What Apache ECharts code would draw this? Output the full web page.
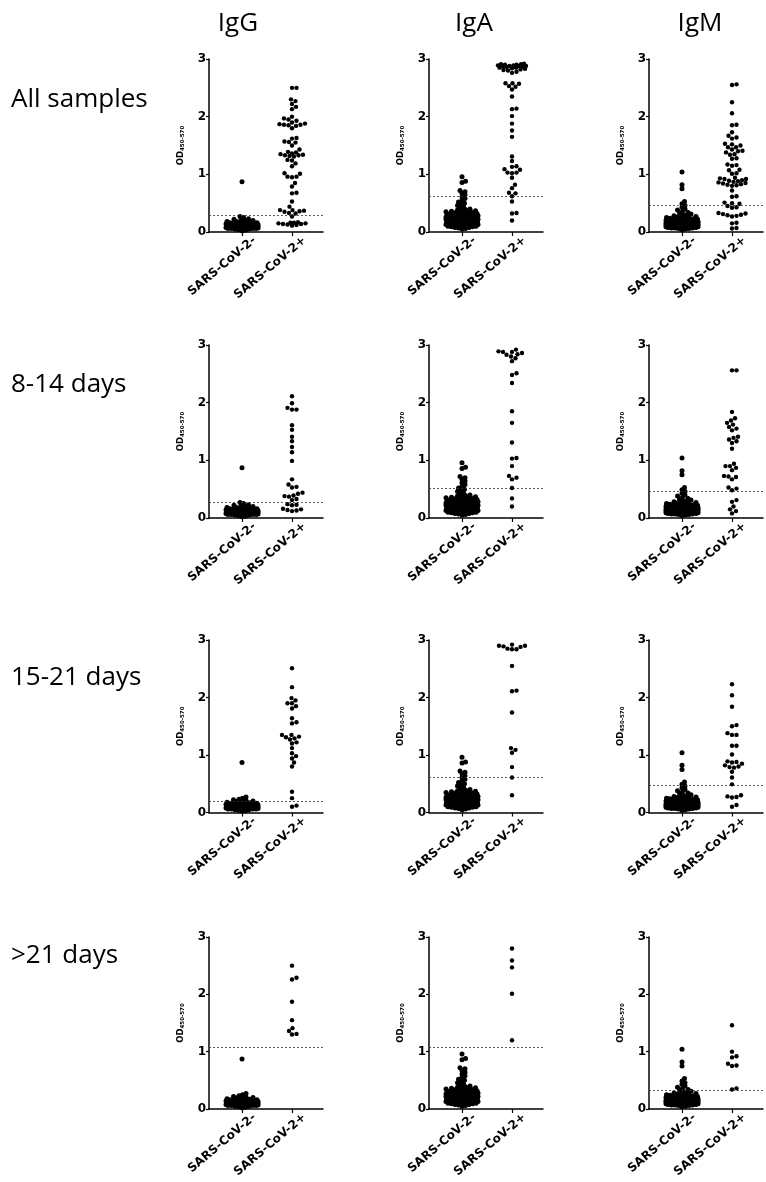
<!DOCTYPE html>
<html>
<head>
<meta charset="utf-8">
<script src="https://cdn.jsdelivr.net/npm/echarts@6/dist/echarts.min.js"></script>
<style>
html,body{margin:0;padding:0;background:#fff;}
#main{width:766px;height:1182px;}
</style>
</head>
<body>
<div id="main"></div>
<script>
// ---------- DATA ----------
const columnLabels = ['IgG', 'IgA', 'IgM'];
const rowLabels = ['All samples', '8-14 days', '15-21 days', '>21 days'];
const categories = ['SARS-CoV-2-', 'SARS-CoV-2+'];
const yTicks = [0, 1, 2, 3];

// Negative controls (same cohort in every row)
const negIgG = [0.87, 0.27, 0.25, 0.23, 0.22, 0.21, 0.20, 0.19, 0.18, 0.18, 0.17, 0.17, 0.16, 0.16, 0.16,
  0.15, 0.15, 0.15, 0.15, 0.14, 0.14, 0.14, 0.14, 0.14, 0.13, 0.13, 0.13, 0.13, 0.13, 0.13, 0.12, 0.12, 0.12, 0.12, 0.12, 0.12, 0.12,
  0.11, 0.11, 0.11, 0.11, 0.11, 0.11, 0.11, 0.11, 0.10, 0.10, 0.10, 0.10, 0.10, 0.10, 0.10, 0.10, 0.10, 0.09, 0.09, 0.09, 0.09, 0.09, 0.09, 0.09, 0.09,
  0.08, 0.08, 0.08, 0.08, 0.08, 0.08, 0.08, 0.07, 0.07, 0.07, 0.07, 0.07, 0.06, 0.06, 0.06, 0.06, 0.05, 0.05, 0.04, 0.03, 0.02];
const negIgA = [0.96, 0.88, 0.86, 0.72, 0.70, 0.67, 0.64, 0.61, 0.58, 0.55, 0.52, 0.50, 0.48, 0.46, 0.44, 0.42, 0.40,
  0.39, 0.38, 0.37, 0.37, 0.36, 0.35, 0.35, 0.34, 0.34, 0.33, 0.33,
  0.32, 0.32, 0.31, 0.31, 0.31, 0.30, 0.30, 0.30, 0.29, 0.29, 0.29, 0.29, 0.28, 0.28, 0.28, 0.28, 0.27, 0.27, 0.27, 0.27,
  0.26, 0.26, 0.26, 0.26, 0.26, 0.26, 0.25, 0.25, 0.25, 0.25, 0.25, 0.25, 0.24, 0.24, 0.24, 0.24, 0.24, 0.24,
  0.23, 0.23, 0.23, 0.23, 0.23, 0.23, 0.23, 0.22, 0.22, 0.22, 0.22, 0.22, 0.22, 0.22, 0.21, 0.21, 0.21, 0.21, 0.21, 0.21, 0.21,
  0.20, 0.20, 0.20, 0.20, 0.20, 0.20, 0.20, 0.19, 0.19, 0.19, 0.19, 0.19, 0.19, 0.19, 0.18, 0.18, 0.18, 0.18, 0.18, 0.18, 0.18,
  0.17, 0.17, 0.17, 0.17, 0.17, 0.17, 0.17, 0.16, 0.16, 0.16, 0.16, 0.16, 0.16, 0.15, 0.15, 0.15, 0.15, 0.15, 0.15,
  0.14, 0.14, 0.14, 0.14, 0.14, 0.13, 0.13, 0.13, 0.13, 0.13, 0.12, 0.12, 0.12, 0.12, 0.11, 0.11, 0.11, 0.10, 0.10, 0.10,
  0.09, 0.09, 0.08, 0.08, 0.07, 0.06, 0.05];
const negIgM = [1.04, 0.82, 0.75, 0.53, 0.49, 0.46, 0.43, 0.40, 0.38, 0.36, 0.34, 0.33, 0.31, 0.30, 0.29, 0.28, 0.27, 0.26, 0.26, 0.25, 0.25, 0.24, 0.24,
  0.23, 0.23, 0.22, 0.22, 0.22, 0.21, 0.21, 0.21, 0.20, 0.20, 0.20, 0.20, 0.19, 0.19, 0.19, 0.19, 0.18, 0.18, 0.18, 0.18, 0.18,
  0.17, 0.17, 0.17, 0.17, 0.17, 0.17, 0.16, 0.16, 0.16, 0.16, 0.16, 0.16, 0.15, 0.15, 0.15, 0.15, 0.15, 0.15, 0.15,
  0.14, 0.14, 0.14, 0.14, 0.14, 0.14, 0.14, 0.13, 0.13, 0.13, 0.13, 0.13, 0.13, 0.13, 0.12, 0.12, 0.12, 0.12, 0.12, 0.12, 0.12,
  0.11, 0.11, 0.11, 0.11, 0.11, 0.11, 0.10, 0.10, 0.10, 0.10, 0.10, 0.10, 0.09, 0.09, 0.09, 0.09, 0.09,
  0.08, 0.08, 0.08, 0.08, 0.07, 0.07, 0.07, 0.06, 0.06, 0.05, 0.04];

// Positive patients
const posIgG_all = [2.50, 2.50, 2.30, 2.27, 2.22, 2.17, 2.13, 2.00, 1.97, 1.95, 1.93, 1.90, 1.88, 1.87, 1.86, 1.86, 1.85, 1.84, 1.80, 1.63, 1.62, 1.57, 1.56, 1.55, 1.50, 1.43, 1.39, 1.38, 1.36, 1.35, 1.34, 1.33, 1.33, 1.32, 1.31, 1.25, 1.24, 1.19, 1.14, 1.02, 1.01, 0.96, 0.96, 0.95, 0.85, 0.79, 0.68, 0.67, 0.53, 0.44, 0.38, 0.38, 0.37, 0.36, 0.35, 0.33, 0.32, 0.27, 0.17, 0.16, 0.16, 0.15, 0.15, 0.14, 0.14, 0.13, 0.12, 0.11];
const posIgA_all = [2.92, 2.91, 2.91, 2.90, 2.90, 2.89, 2.89, 2.88, 2.88, 2.88, 2.87, 2.87, 2.86, 2.85, 2.85, 2.84, 2.83, 2.82, 2.81, 2.80, 2.78, 2.76, 2.58, 2.58, 2.57, 2.53, 2.52, 2.47, 2.35, 2.14, 2.13, 2.01, 1.88, 1.76, 1.65, 1.31, 1.23, 1.14, 1.13, 1.09, 1.08, 1.03, 1.03, 1.02, 0.94, 0.82, 0.76, 0.68, 0.67, 0.62, 0.53, 0.33, 0.32, 0.20];
const posIgM_all = [2.56, 2.55, 2.25, 2.06, 1.86, 1.85, 1.73, 1.67, 1.64, 1.62, 1.53, 1.52, 1.50, 1.47, 1.47, 1.43, 1.41, 1.40, 1.38, 1.35, 1.34, 1.28, 1.27, 1.17, 1.16, 1.15, 1.08, 1.07, 1.02, 1.01, 0.94, 0.93, 0.92, 0.92, 0.90, 0.89, 0.88, 0.87, 0.86, 0.85, 0.84, 0.83, 0.82, 0.81, 0.80, 0.72, 0.62, 0.61, 0.51, 0.50, 0.49, 0.45, 0.43, 0.42, 0.33, 0.32, 0.31, 0.30, 0.29, 0.28, 0.27, 0.16, 0.15, 0.07, 0.06];

const posIgG_8_14 = [2.11, 1.99, 1.91, 1.88, 1.88, 1.61, 1.53, 1.41, 1.33, 1.23, 1.14, 0.99, 0.67, 0.58, 0.54, 0.53, 0.44, 0.42, 0.39, 0.38, 0.37, 0.33, 0.31, 0.24, 0.23, 0.22, 0.16, 0.15, 0.14, 0.13, 0.12];
const posIgA_8_14 = [2.92, 2.89, 2.88, 2.88, 2.86, 2.84, 2.83, 2.80, 2.77, 2.72, 2.51, 2.48, 2.34, 1.85, 1.65, 1.31, 1.04, 1.03, 0.90, 0.73, 0.70, 0.67, 0.52, 0.34, 0.20];
const posIgM_8_14 = [2.56, 2.56, 1.84, 1.73, 1.69, 1.65, 1.62, 1.58, 1.55, 1.52, 1.41, 1.39, 1.36, 1.33, 1.30, 1.20, 0.94, 0.90, 0.90, 0.87, 0.83, 0.73, 0.72, 0.71, 0.67, 0.53, 0.51, 0.48, 0.31, 0.28, 0.20, 0.15, 0.12, 0.08];

const posIgG_15_21 = [2.51, 2.18, 1.99, 1.95, 1.90, 1.90, 1.85, 1.81, 1.64, 1.57, 1.55, 1.35, 1.35, 1.32, 1.31, 1.29, 1.27, 1.22, 1.20, 1.12, 1.03, 0.98, 0.94, 0.87, 0.80, 0.36, 0.25, 0.12, 0.10];
const posIgA_15_21 = [2.92, 2.90, 2.90, 2.89, 2.88, 2.85, 2.84, 2.84, 2.55, 2.12, 2.11, 1.74, 1.12, 1.09, 1.04, 0.79, 0.61, 0.30];
const posIgM_15_21 = [2.23, 2.04, 1.84, 1.52, 1.50, 1.38, 1.35, 1.35, 1.16, 1.16, 1.01, 0.89, 0.88, 0.87, 0.85, 0.82, 0.80, 0.79, 0.78, 0.71, 0.61, 0.49, 0.30, 0.28, 0.27, 0.26, 0.13, 0.10];

const posIgG_21 = [2.50, 2.29, 2.26, 1.87, 1.55, 1.41, 1.36, 1.31, 1.30];
const posIgA_21 = [2.80, 2.59, 2.47, 2.01, 1.20];
const posIgM_21 = [1.46, 1.00, 0.92, 0.90, 0.79, 0.76, 0.75, 0.36, 0.34];

// Cut-off (dashed) per row: All, 8-14, 15-21, >21
const cutoffIgG = [0.29, 0.28, 0.20, 1.07];
const cutoffIgA = [0.62, 0.51, 0.61, 1.08];
const cutoffIgM = [0.47, 0.47, 0.47, 0.33];

// ---------- LAYOUT ----------
const colLeft = [209, 429, 649];
const gridW = 114;
const rowTop = [59, 345, 640, 937];
const gridH = [173, 173, 172.5, 172];
const colTitleX = [238, 474, 700];
const colTitleY = 24;
const rowLabelY = [100, 385, 678, 956];

const negByCol = [negIgG, negIgA, negIgM];
const posByCell = [
  [posIgG_all, posIgA_all, posIgM_all],
  [posIgG_8_14, posIgA_8_14, posIgM_8_14],
  [posIgG_15_21, posIgA_15_21, posIgM_15_21],
  [posIgG_21, posIgA_21, posIgM_21]
];
const cutByCol = [cutoffIgG, cutoffIgA, cutoffIgM];

// beeswarm horizontal offsets (pixels) so that dots sit side by side
function swarm(vals, pxPerUnit, d, maxHalf) {
  const order = vals.map((v, i) => i).sort((a, b) => vals[a] - vals[b]);
  const placed = [];
  const off = new Array(vals.length).fill(0);
  const cands = [0];
  for (let s = 0.5; s <= maxHalf; s += 0.5) { cands.push(s, -s); }
  for (const i of order) {
    const y = vals[i] * pxPerUnit;
    let free = null, best = 0, bestScore = -1;
    for (const c of cands) {
      let minD = Infinity;
      for (const p of placed) {
        const dy = p.y - y;
        if (Math.abs(dy) >= d) continue;
        const dist = Math.hypot(p.x - c, dy);
        if (dist < minD) minD = dist;
      }
      if (minD >= d) { free = c; break; }
      if (minD > bestScore + 0.05) { bestScore = minD; best = c; }
    }
    const x = free !== null ? free : best;
    off[i] = x;
    placed.push({ x: x, y: y });
  }
  return off;
}

const boldFont = 'DejaVu Sans, Liberation Sans, Arial, sans-serif';
const grids = [], xAxes = [], yAxes = [], series = [], graphics = [];
let gi = 0;
for (let r = 0; r < 4; r++) {
  for (let c = 0; c < 3; c++) {
    grids.push({ left: colLeft[c], top: rowTop[r], width: gridW, height: gridH[r], containLabel: false });
    xAxes.push({
      gridIndex: gi, type: 'value', min: -0.66, max: 1.62,
      axisLine: { show: true, onZero: false, lineStyle: { color: '#000', width: 1.5 } },
      axisTick: { show: true, customValues: [0, 1], length: 4, lineStyle: { color: '#000', width: 1.2 } },
      axisLabel: {
        show: true, customValues: [0.25, 1.25], rotate: 40, margin: 7,
        formatter: v => categories[Math.floor(v + 0.01)],
        color: '#000', fontFamily: boldFont, fontWeight: 'bold', fontSize: 12
      },
      splitLine: { show: false }
    });
    yAxes.push({
      gridIndex: gi, type: 'value', min: 0, max: 3, interval: 1,
      name: '{a|OD}{b|450-570}', nameLocation: 'middle', nameRotate: 90, nameGap: 23,
      nameTextStyle: {
        rich: {
          a: { fontFamily: boldFont, fontWeight: 'bold', fontSize: 8.5, color: '#000' },
          b: { fontFamily: boldFont, fontWeight: 'bold', fontSize: 5.5, color: '#000', verticalAlign: 'bottom', padding: [4, 0, 0, 0] }
        }
      },
      axisLine: { show: true, onZero: false, lineStyle: { color: '#000', width: 1.5 } },
      axisTick: { show: true, length: 3, lineStyle: { color: '#000', width: 1.2 } },
      axisLabel: { margin: 3, color: '#000', fontFamily: boldFont, fontWeight: 'bold', fontSize: 12,
        formatter: v => String(yTicks[Math.round(v)]) },
      splitLine: { show: false }
    });
    const ppu = gridH[r] / 3;
    const groups = [negByCol[c], posByCell[r][c]];
    groups.forEach((vals, k) => {
      const offs = k === 0 ? swarm(vals, ppu, 3.3, 16) : swarm(vals, ppu, 4.4, 14);
      const s = {
        type: 'scatter', xAxisIndex: gi, yAxisIndex: gi,
        symbol: 'circle', symbolSize: k === 0 ? 5 : 4.4,
        itemStyle: { color: '#000', opacity: 1 },
        silent: true, animation: false,
        data: vals.map((v, i) => ({ value: [k, v], symbolOffset: [offs[i], 0] }))
      };
      if (k === 0) {
        s.markLine = {
          silent: true, symbol: 'none', animation: false,
          label: { show: false },
          lineStyle: { type: [2, 2], color: '#333', width: 0.8 },
          data: [{ yAxis: cutByCol[c][r] }]
        };
      }
      series.push(s);
    });
    gi++;
  }
}

columnLabels.forEach((t, c) => {
  graphics.push({ type: 'text', x: colTitleX[c], y: colTitleY,
    style: { text: t, fill: '#000', font: '26px "Open Sans", sans-serif', textAlign: 'center', textVerticalAlign: 'middle', align: 'center', verticalAlign: 'middle' } });
});
rowLabels.forEach((t, r) => {
  graphics.push({ type: 'text', x: 11, y: rowLabelY[r],
    style: { text: t, fill: '#000', font: '26px "Open Sans", sans-serif', textAlign: 'left', textVerticalAlign: 'middle', align: 'left', verticalAlign: 'middle' } });
});

const chart = echarts.init(document.getElementById('main'), null, { renderer: 'canvas' });
chart.setOption({
  animation: false,
  backgroundColor: '#fff',
  grid: grids, xAxis: xAxes, yAxis: yAxes, series: series,
  graphic: graphics
});
</script>
</body>
</html>
